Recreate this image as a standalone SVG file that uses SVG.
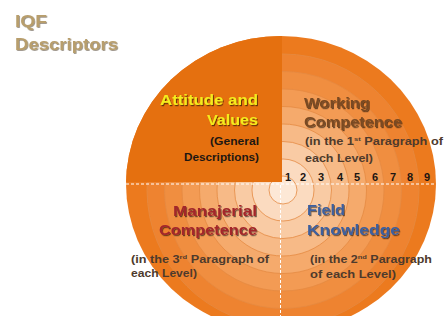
<svg xmlns="http://www.w3.org/2000/svg" width="448" height="324" viewBox="0 0 448 324">
<defs>
<filter id="sh" x="-10%" y="-30%" width="120%" height="160%">
<feDropShadow dx="1" dy="1.2" stdDeviation="0.7" flood-color="#000" flood-opacity="0.55"/>
</filter>
<filter id="shl" x="-10%" y="-30%" width="120%" height="160%">
<feDropShadow dx="0.8" dy="0.8" stdDeviation="0.5" flood-color="#3a2a10" flood-opacity="0.6"/>
</filter>
<clipPath id="disc">
<path d="M126,184 a155,148 0 1,1 310,0 a155,148 0 1,1 -310,0 Z"/>
</clipPath>
<clipPath id="cut"><rect x="0" y="0" width="448" height="316"/></clipPath>
</defs>
<style>
.t{font-family:"Liberation Sans",Arial,sans-serif;font-weight:bold}
.big{font-size:14.5px}
.sm{font-size:10px;fill:#4e3a2c}
.ring{stroke:#e58a42;stroke-width:0.8}
.num{font-family:"Liberation Sans",Arial,sans-serif;font-weight:bold;font-size:11px;fill:#1c1612;text-anchor:middle}
.dash{stroke:#ffffff;stroke-width:1;stroke-dasharray:3 2;fill:none}
</style>
<rect width="448" height="324" fill="#ffffff"/>
<g id="wheel" clip-path="url(#cut)">
<g clip-path="url(#disc)">
<rect x="100" y="20" width="360" height="310" fill="#ec7a1e"/>
<circle class="ring" cx="283" cy="190" r="136" fill="#ee8330"/>
<circle class="ring" cx="283" cy="190" r="118.5" fill="#f08e40"/>
<circle class="ring" cx="283" cy="190" r="101" fill="#f39b54"/>
<circle class="ring" cx="283" cy="190" r="83.5" fill="#f5aa6c"/>
<circle class="ring" cx="283" cy="190" r="66" fill="#f7ba87"/>
<circle class="ring" cx="283" cy="190" r="48.5" fill="#f9cba4"/>
<circle class="ring" cx="283" cy="190" r="31" fill="#fbdbc0"/>
<circle class="ring" cx="283" cy="190" r="14" fill="#fde8d6"/>
<rect x="100" y="20" width="182" height="162" fill="#e5700f"/>
</g>
</g>
<g id="dividers">
<line class="dash" x1="126" y1="184" x2="436" y2="184"/>
<line class="dash" x1="280.5" y1="185" x2="280.5" y2="316"/>
</g>
<g id="title" filter="url(#shl)">
<text class="t" x="15" y="27" font-size="17" fill="#b89e6c" textLength="32" lengthAdjust="spacingAndGlyphs">IQF</text>
<text class="t" x="15" y="50" font-size="17" fill="#b89e6c" textLength="103" lengthAdjust="spacingAndGlyphs">Descriptors</text>
</g>
<g id="attitude">
<text class="t big" x="258" y="105" text-anchor="end" fill="#f4ec1e" filter="url(#sh)" textLength="98" lengthAdjust="spacingAndGlyphs">Attitude and</text>
<text class="t big" x="258" y="125" text-anchor="end" fill="#f4ec1e" filter="url(#sh)" textLength="51" lengthAdjust="spacingAndGlyphs">Values</text>
<text class="t" x="259" y="145" font-size="10.5" text-anchor="end" fill="#1e1712" textLength="49" lengthAdjust="spacingAndGlyphs">(General</text>
<text class="t" x="259" y="161" font-size="10.5" text-anchor="end" fill="#1e1712" textLength="75" lengthAdjust="spacingAndGlyphs">Descriptions)</text>
</g>
<g id="working">
<text class="t big" x="304" y="108" fill="#7a4a22" filter="url(#sh)" textLength="66" lengthAdjust="spacingAndGlyphs">Working</text>
<text class="t big" x="304" y="127" fill="#7a4a22" filter="url(#sh)" textLength="98" lengthAdjust="spacingAndGlyphs">Competence</text>
<text class="t sm" x="305" y="145" textLength="138" lengthAdjust="spacingAndGlyphs">(in the 1<tspan font-size="6" dy="-4">st</tspan><tspan dy="4"> Paragraph  of</tspan></text>
<text class="t sm" x="305" y="162" textLength="68" lengthAdjust="spacingAndGlyphs">each Level)</text>
</g>
<g id="levels">
<text class="num" x="288" y="181">1</text>
<text class="num" x="303" y="181">2</text>
<text class="num" x="321" y="181">3</text>
<text class="num" x="340" y="181">4</text>
<text class="num" x="357" y="181">5</text>
<text class="num" x="375" y="181">6</text>
<text class="num" x="393" y="181">7</text>
<text class="num" x="410" y="181">8</text>
<text class="num" x="427" y="181">9</text>
</g>
<g id="managerial">
<text class="t big" x="257" y="216" text-anchor="end" fill="#a3282c" filter="url(#sh)" textLength="84" lengthAdjust="spacingAndGlyphs">Manajerial</text>
<text class="t big" x="257" y="235" text-anchor="end" fill="#a3282c" filter="url(#sh)" textLength="98" lengthAdjust="spacingAndGlyphs">Competence</text>
<text class="t sm" x="131" y="263" textLength="138" lengthAdjust="spacingAndGlyphs">(in the 3<tspan font-size="6" dy="-4">rd</tspan><tspan dy="4"> Paragraph  of</tspan></text>
<text class="t sm" x="131" y="277" textLength="66" lengthAdjust="spacingAndGlyphs">each Level)</text>
</g>
<g id="field">
<text class="t big" x="307" y="215" fill="#3d5f9e" filter="url(#sh)" textLength="38" lengthAdjust="spacingAndGlyphs">Field</text>
<text class="t big" x="307" y="235" fill="#3d5f9e" filter="url(#sh)" textLength="93" lengthAdjust="spacingAndGlyphs">Knowledge</text>
<text class="t sm" x="310" y="263" textLength="122" lengthAdjust="spacingAndGlyphs">(in the 2<tspan font-size="6" dy="-4">nd</tspan><tspan dy="4"> Paragraph</tspan></text>
<text class="t sm" x="310" y="278" textLength="86" lengthAdjust="spacingAndGlyphs">of each Level)</text>
</g>
</svg>
